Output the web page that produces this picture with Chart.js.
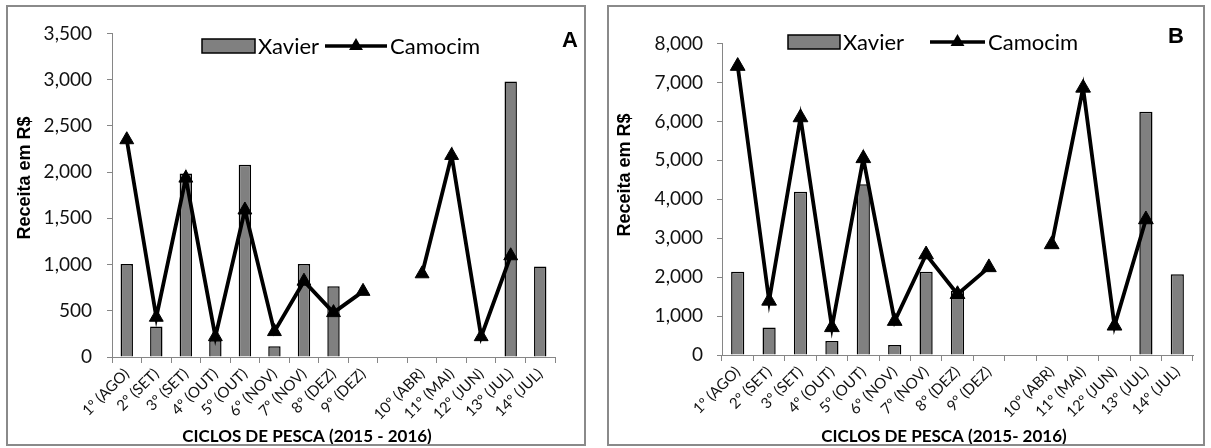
<!DOCTYPE html>
<html><head><meta charset="utf-8">
<script src="https://cdn.jsdelivr.net/npm/chart.js@4.4.1/dist/chart.umd.min.js"></script>
<style>
html,body{margin:0;padding:0;background:#fff;width:1211px;height:448px;overflow:hidden}
.panel{position:absolute;box-sizing:border-box;border:2px solid #8a8a8a;background:#fff}
#pa{left:6px;top:5px;width:580px;height:441px}
#pb{left:607px;top:5px;width:598px;height:441px}
canvas{display:block}
</style></head><body>
<div class="panel" id="pa"><canvas id="ca" width="576" height="437"></canvas></div>
<div class="panel" id="pb"><canvas id="cb" width="594" height="437"></canvas></div>
<script>
// ---- data ----
const categories = ['1º (AGO)','2º (SET)','3º (SET)','4º (OUT)','5º (OUT)','6º (NOV)','7º (NOV)','8º (DEZ)','9º (DEZ)','','10º (ABR)','11º (MAI)','12º (JUN)','13º (JUL)','14º (JUL)'];
const seriesNames = ['Xavier','Camocim'];
const xavierA  = [1005, 330, 1985, 180, 2080, 115, 1005, 765, null, null, null, null, null, 2980, 980];
const camocimA = [2350, 430, 1935, 220, 1590, 275, 820, 480, 710, null, 900, 2180, 220, 1095, null];
const xavierB  = [2140, 705, 4190, 360, 4385, 260, 2140, 1650, null, null, null, null, null, 6245, 2075];
const camocimB = [7420, 1390, 6100, 710, 5050, 870, 2580, 1560, 2250, null, 2840, 6860, 750, 3480, null];
const yTicksA = {min:0, max:3500, step:500};
const yTicksB = {min:0, max:8000, step:1000};
const xTitleA = 'CICLOS DE PESCA (2015 - 2016)';
const xTitleB = 'CICLOS DE PESCA (2015- 2016)';
const yTitle = 'Receita em R$';

const decor = {
  id:'decor',
  afterDraw(chart, args, o){
    const ctx = chart.ctx, ds = chart.data.datasets;
    ctx.save();
    // legend: bar entry
    ctx.fillStyle = ds[0].backgroundColor; ctx.strokeStyle = '#000'; ctx.lineWidth = 1.5;
    ctx.fillRect(o.boxX, o.legY-7, o.boxW, 14);
    ctx.strokeRect(o.boxX, o.legY-7, o.boxW, 14);
    ctx.font = '22px Lato'; ctx.fillStyle = '#000'; ctx.textBaseline = 'middle'; ctx.textAlign = 'left';
    ctx.fillText(ds[0].label, o.boxX + o.boxW + 3, o.legY + 1);
    // legend: line entry
    ctx.strokeStyle = '#000'; ctx.lineWidth = 3.5;
    ctx.beginPath(); ctx.moveTo(o.lineX, o.legY); ctx.lineTo(o.lineX + o.lineW, o.legY); ctx.stroke();
    const cx = o.lineX + o.lineW/2, r = 8;
    ctx.beginPath();
    ctx.moveTo(cx, o.legY - r); ctx.lineTo(cx + r*0.866, o.legY + r/2); ctx.lineTo(cx - r*0.866, o.legY + r/2); ctx.closePath();
    ctx.fillStyle = '#000'; ctx.fill();
    ctx.fillText(ds[1].label, o.lineX + o.lineW + 3, o.legY + 1);
    // panel letter
    ctx.font = 'bold 22px "Liberation Sans"'; ctx.textAlign = 'center';
    ctx.fillText(o.letter, o.letX, o.letY);
    // x title
    ctx.font = 'bold 17px Lato';
    ctx.fillText(o.xTitle, o.xtX, o.xtY);
    // y title
    ctx.translate(o.ytX, o.ytY); ctx.rotate(-Math.PI/2);
    ctx.font = 'bold 18px "Liberation Sans"';
    ctx.fillText(yTitle, 0, 0);
    ctx.restore();
  }
};

function makeChart(id, xav, cam, yt, lay, deco){
  return new Chart(document.getElementById(id), {
    type:'bar',
    data:{
      labels: categories,
      datasets:[
        {type:'bar', label:seriesNames[0], data:xav, backgroundColor:'#808080', borderColor:'#000', borderWidth:1.5,
         barPercentage:0.42, categoryPercentage:1, order:2},
        {type:'line', label:seriesNames[1], data:cam, borderColor:'#000', backgroundColor:'#000', borderWidth:3.8,
         pointStyle:'triangle', pointRadius:lay.pr, pointBackgroundColor:'#000', pointBorderColor:'#000', pointBorderWidth:1,
         spanGaps:false, tension:0, order:1}
      ]
    },
    options:{
      responsive:false, animation:false, devicePixelRatio:1,
      layout:{padding:{top:lay.top, right:lay.right, left:0, bottom:0}},
      plugins:{legend:{display:false}, tooltip:{enabled:false}, decor:deco},
      scales:{
        x:{
          afterFit(s){ s.height = lay.xh; },
          grid:{display:true, drawOnChartArea:false, offset:true, tickLength:6, color:'#868686'},
          border:{color:'#868686', width:1},
          ticks:{autoSkip:false, minRotation:45, maxRotation:45, padding:2, color:'#111', font:{family:'Lato', size:15}}
        },
        y:{
          min:yt.min, max:yt.max,
          afterFit(s){ s.width = lay.yw; },
          grid:{display:true, drawOnChartArea:false, tickLength:5, color:'#868686'},
          border:{color:'#868686', width:1},
          ticks:{stepSize:yt.step, padding:lay.tp, color:'#111', font:{family:'Lato', size:19}}
        }
      }
    },
    plugins:[decor]
  });
}

makeChart('ca', xavierA, camocimA, yTicksA,
  {top:17, right:29, xh:87, yw:104, tp:15, pr:8},
  {boxX:194, boxW:53, legY:39, lineX:317, lineW:62, letter:'A', letX:562, letY:34,
   xTitle:xTitleA, xtX:299, xtY:430, ytX:17, ytY:171});
makeChart('cb', xavierB, camocimB, yTicksB,
  {top:36.5, right:10, xh:89, yw:113, tp:14, pr:8.5},
  {boxX:179, boxW:52, legY:35, lineX:321, lineW:55, letter:'B', letX:567, letY:30,
   xTitle:xTitleB, xtX:335, xtY:430, ytX:16, ytY:168});
</script>
</body></html>
